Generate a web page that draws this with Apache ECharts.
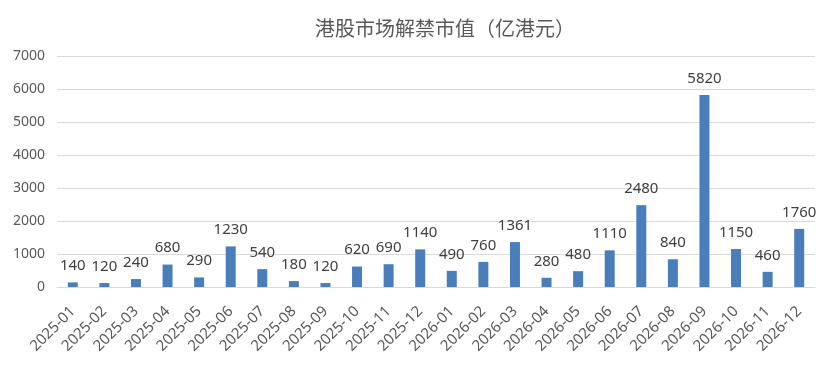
<!DOCTYPE html>
<html><head><meta charset="utf-8">
<script src="https://cdn.jsdelivr.net/npm/echarts@6/dist/echarts.min.js"></script>
<style>html,body{margin:0;padding:0;background:#fff}#c{width:831px;height:367px}</style>
</head><body><div id="c"></div>
<script>
const title = '港股市场解禁市值（亿港元）';
const categories = ['2025-01','2025-02','2025-03','2025-04','2025-05','2025-06','2025-07','2025-08','2025-09','2025-10','2025-11','2025-12',
  '2026-01','2026-02','2026-03','2026-04','2026-05','2026-06','2026-07','2026-08','2026-09','2026-10','2026-11','2026-12'];
const values = [140,120,240,680,290,1230,540,180,120,620,690,1140,490,760,1361,280,480,1110,2480,840,5820,1150,460,1760];
const yTicks = {min:0, max:7000, interval:1000};

const chart = echarts.init(document.getElementById('c'));
chart.setOption({
  animation:false,
  title:{text:title,left:440,top:12,textAlign:'center',textStyle:{fontFamily:'Noto Sans CJK SC',fontSize:20,fontWeight:'normal',color:'#595959',lineHeight:22}},
  grid:{left:57,right:16,top:56,bottom:80},
  xAxis:{type:'category',data:categories,
    axisLine:{lineStyle:{color:'#d9d9d9'}},axisTick:{show:false},
    axisLabel:{rotate:45,interval:0,fontSize:15,color:'#595959',fontFamily:'Noto Sans',margin:22}},
  yAxis:{type:'value',min:yTicks.min,max:yTicks.max,interval:yTicks.interval,
    axisLine:{show:false},axisTick:{show:false},
    splitLine:{lineStyle:{color:'#d9d9d9'}},
    axisLabel:{fontSize:14,color:'#595959',fontFamily:'Noto Sans',margin:12,formatter:v=>String(v)}},
  series:[{type:'bar',data:values,barWidth:10,itemStyle:{color:'#4a7ebb'},
    label:{show:true,position:'top',distance:9,fontSize:15,color:'#404040',fontFamily:'Noto Sans'}}]
});
</script></body></html>
